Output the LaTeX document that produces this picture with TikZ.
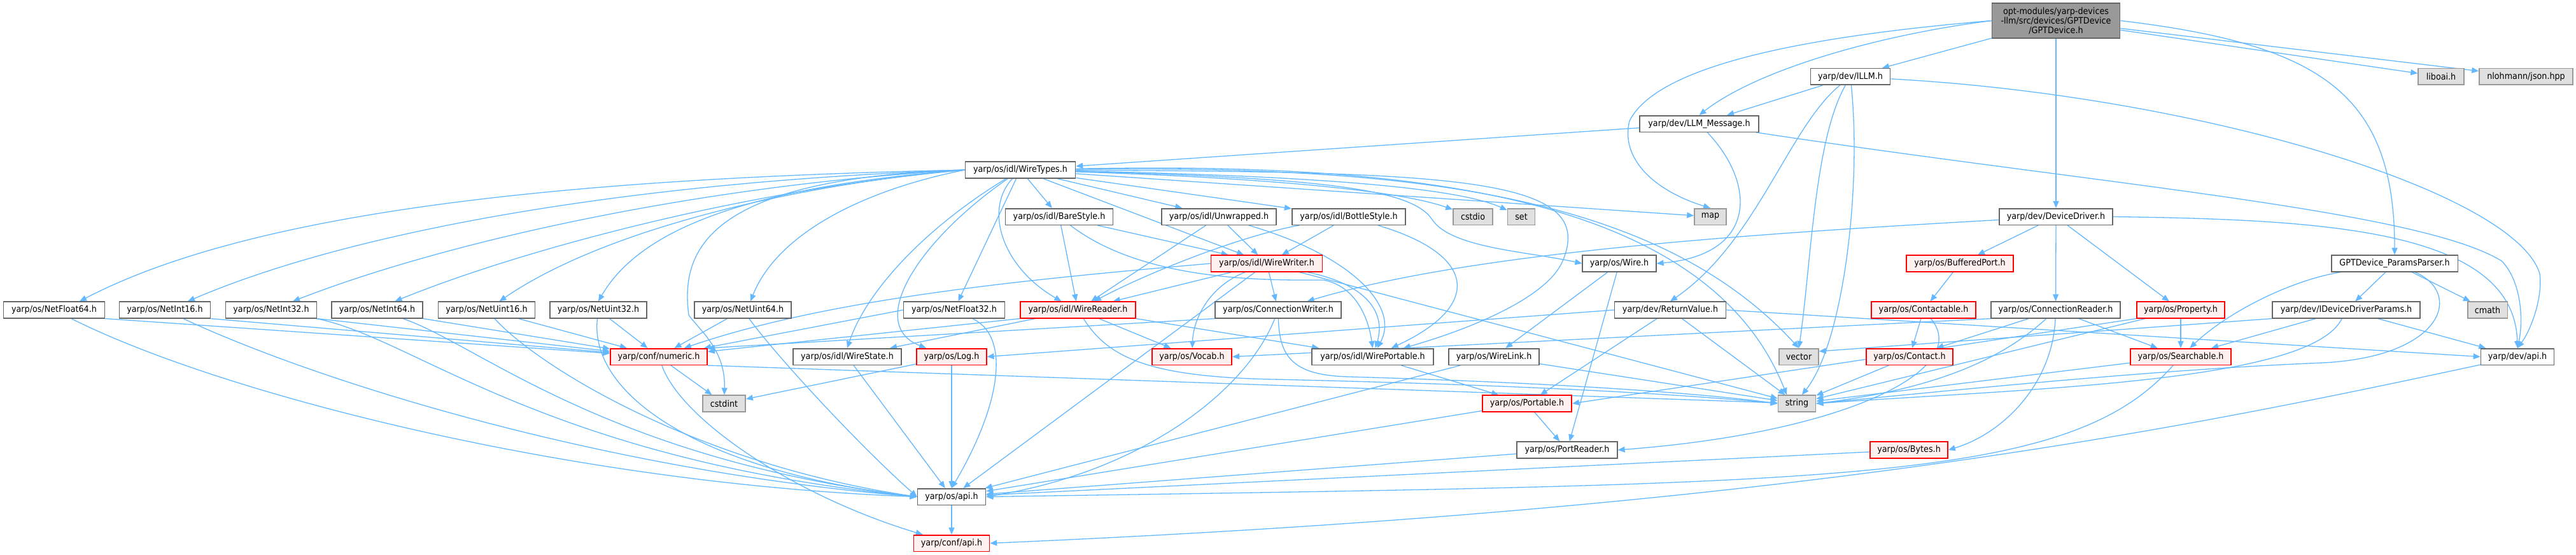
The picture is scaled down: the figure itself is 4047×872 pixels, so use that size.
\documentclass[tikz,border=0pt]{standalone}
\usepackage{fontspec}
\setmainfont{DejaVu Sans}[FakeStretch=0.91]
\usetikzlibrary{arrows.meta}
\definecolor{edgec}{HTML}{63B8FF}
\definecolor{grayb}{HTML}{666666}
\definecolor{sysb}{HTML}{999999}
\definecolor{sysf}{HTML}{E0E0E0}
\definecolor{redf}{HTML}{FFF0F0}
\definecolor{rootf}{HTML}{999999}
\pgfdeclarelayer{bg}
\pgfsetlayers{bg,main}
\tikzset{
 nd/.style={draw=grayb, fill=white, line width=0.8pt, inner sep=0pt, minimum height=12.8pt, font=\fontsize{7}{7.5}\selectfont},
 rd/.style={nd, draw=red, fill=redf},
 sy/.style={nd, draw=sysb, fill=sysf},
 nw/.style={minimum width=#1*0.5pt},
 e/.style={draw=edgec, line width=0.65pt, -{Triangle[length=5.5pt,width=4.5pt]}},
}
\begin{document}
\begin{tikzpicture}[x=0.5pt,y=-0.5pt]
\useasboundingbox (0,0) rectangle (4047,872);
% nodes
\node[nd, fill=rootf, nw=201, minimum height=27.5pt, align=center] (G) at (3230,32.5) {opt-modules/yarp-devices\\-llm/src/devices/GPTDevice\\/GPTDevice.h};
\node[nd, nw=125] (ILLM) at (2907,120.5) {yarp/dev/ILLM.h};
\node[sy, nw=72] (liboai) at (3835,120.5) {liboai.h};
\node[sy, nw=147] (json) at (3968.5,120.5) {nlohmann/json.hpp};
\node[nd, nw=187] (LLM) at (2669.5,194.5) {yarp/dev/LLM\_Message.h};
\node[nd, nw=173] (WT) at (1603,267) {yarp/os/idl/WireTypes.h};
\node[nd, nw=169] (Bare) at (1664,340.5) {yarp/os/idl/BareStyle.h};
\node[nd, nw=180] (Unwr) at (1915,340.5) {yarp/os/idl/Unwrapped.h};
\node[nd, nw=178.5] (Bottle) at (2119,340.5) {yarp/os/idl/BottleStyle.h};
\node[sy, nw=62] (cstdio) at (2314,340.5) {cstdio};
\node[sy, nw=43] (set) at (2390,340.5) {set};
\node[sy, nw=50] (map) at (2687,340.5) {map};
\node[nd, nw=178.5] (DD) at (3230,340.5) {yarp/dev/DeviceDriver.h};
\node[rd, nw=175] (WW) at (1990,414) {yarp/os/idl/WireWriter.h};
\node[nd, nw=115.5] (Wire) at (2544,414) {yarp/os/Wire.h};
\node[rd, nw=167.5] (BP) at (3079,414) {yarp/os/BufferedPort.h};
\node[nd, nw=198.5] (PP) at (3762,414) {GPTDevice\_ParamsParser.h};
\node[nd, nw=159] (NF64) at (85,487) {yarp/os/NetFloat64.h};
\node[nd, nw=143] (NI16) at (259,487) {yarp/os/NetInt16.h};
\node[nd, nw=143] (NI32) at (426,487) {yarp/os/NetInt32.h};
\node[nd, nw=143] (NI64) at (592.5,487) {yarp/os/NetInt64.h};
\node[nd, nw=152] (NU16) at (764.5,487) {yarp/os/NetUint16.h};
\node[nd, nw=152] (NU32) at (940,487) {yarp/os/NetUint32.h};
\node[nd, nw=152] (NU64) at (1167,487) {yarp/os/NetUint64.h};
\node[nd, nw=159] (NF32) at (1499,487) {yarp/os/NetFloat32.h};
\node[rd, nw=181] (WR) at (1693.5,487) {yarp/os/idl/WireReader.h};
\node[nd, nw=198.5] (CW) at (2008,487) {yarp/os/ConnectionWriter.h};
\node[nd, nw=175] (RV) at (2624,487) {yarp/dev/ReturnValue.h};
\node[rd, nw=163.5] (Ctbl) at (3022,487) {yarp/os/Contactable.h};
\node[nd, nw=203.5] (CR) at (3229.5,487) {yarp/os/ConnectionReader.h};
\node[rd, nw=138] (Prop) at (3426,487) {yarp/os/Property.h};
\node[nd, nw=232] (IDDP) at (3686,487) {yarp/dev/IDeviceDriverParams.h};
\node[sy, nw=62.5] (cmath) at (3908,487) {cmath};
\node[rd, nw=152] (numeric) at (1035,560.5) {yarp/conf/numeric.h};
\node[nd, nw=170.5] (WS) at (1331,560.5) {yarp/os/idl/WireState.h};
\node[rd, nw=109.5] (Log) at (1495,560.5) {yarp/os/Log.h};
\node[rd, nw=125.5] (Vocab) at (1872.5,560.5) {yarp/os/Vocab.h};
\node[nd, nw=191] (WP) at (2156.5,560.5) {yarp/os/idl/WirePortable.h};
\node[nd, nw=142] (WL) at (2347,560.5) {yarp/os/WireLink.h};
\node[sy, nw=62] (vector) at (2826,560.5) {vector};
\node[rd, nw=136] (Contact) at (3000,560.5) {yarp/os/Contact.h};
\node[rd, nw=158] (Search) at (3426,560.5) {yarp/os/Searchable.h};
\node[nd, nw=115] (devapi) at (3955,560.5) {yarp/dev/api.h};
\node[sy, nw=67] (cstdint) at (1137.5,634) {cstdint};
\node[rd, nw=140.5] (Portable) at (2399,634) {yarp/os/Portable.h};
\node[sy, nw=59] (string) at (2823,634) {string};
\node[nd, nw=157.5] (PR) at (2462,707) {yarp/os/PortReader.h};
\node[rd, nw=122] (Bytes) at (2999,707) {yarp/os/Bytes.h};
\node[nd, nw=107] (osapi) at (1495,780.5) {yarp/os/api.h};
\node[rd, nw=119] (confapi) at (1495,853.5) {yarp/conf/api.h};
\begin{pgfonlayer}{bg}
% G
\draw[e] (G) -- (ILLM);
\draw[e] (G.west) .. controls (2950,55) and (2760,110) .. (LLM.north);
\draw[e] (G.west) .. controls (2800,60) and (2600,110) .. (2560,190) .. controls (2545,250) and (2600,300) .. (map.north);
\draw[e] (G) -- (DD);
\draw[e] (G.east) .. controls (3650,70) and (3762,150) .. (PP.north);
\draw[e] (G) -- (liboai);
\draw[e] (G) -- (json);
% ILLM
\draw[e] (ILLM) -- (LLM);
\draw[e] (ILLM) .. controls (2810,200) and (2760,380) .. (RV.north);
\draw[e] (ILLM) .. controls (2850,220) and (2845,420) .. (vector.north);
\draw[e] (ILLM) .. controls (2925,300) and (2895,540) .. (string.60);
\draw[e] (ILLM) .. controls (3450,150) and (3950,300) .. (3990,430) .. controls (3995,470) and (3975,520) .. (devapi.north);
% LLM
\draw[e] (LLM) -- (WT);
\draw[e] (LLM) .. controls (2760,290) and (2760,400) .. (Wire.east);
\draw[e] (LLM) .. controls (3300,290) and (3800,330) .. (3930,410) .. controls (3960,440) and (3965,500) .. (devapi.north);
% WT
\draw[e] (WT.west) .. controls (900,280) and (400,330) .. ([xshift=20pt]NF64.north);
\draw[e] (WT.west) .. controls (1000,285) and (560,360) .. ([xshift=18pt]NI16.north);
\draw[e] (WT.west) .. controls (1100,290) and (700,380) .. ([xshift=17pt]NI32.north);
\draw[e] (WT.west) .. controls (1150,300) and (800,400) .. ([xshift=14pt]NI64.north);
\draw[e] (WT.west) .. controls (1250,290) and (950,360) .. ([xshift=10pt]NU16.north);
\draw[e] (WT.west) .. controls (1150,295) and (1000,370) .. (NU32.north);
\draw[e] (WT.west) .. controls (1350,300) and (1220,370) .. ([xshift=6pt]NU64.north);
\draw[e] (WT.west) .. controls (1100,280) and (1070,400) .. (1082,495) .. controls (1100,520) and (1140,550) .. (cstdint);
\draw[e] (WT) .. controls (1450,360) and (1360,460) .. (WS.north);
\draw[e] (WT) .. controls (1440,380) and (1360,510) .. ([xshift=-20pt]Log.north);
\draw[e] (WT) -- (NF32);
\draw[e] (WT) .. controls (1545,330) and (1575,420) .. ([xshift=-13pt]WR.north);
\draw[e] (WT) -- (Bare);
\draw[e] (WT) -- (Unwr);
\draw[e] (WT) -- (WW);
\draw[e] (WT) -- (Bottle);
\draw[e] (WT) .. controls (2000,280) and (2200,300) .. (cstdio);
\draw[e] (WT) .. controls (2000,275) and (2280,290) .. (set);
\draw[e] (WT) -- (map);
\draw[e] (WT) .. controls (2100,280) and (2220,300) .. (2250,345) .. controls (2280,390) and (2400,395) .. (Wire.west);
\draw[e] (WT) .. controls (2300,270) and (2510,280) .. (2455,410) .. controls (2430,470) and (2300,520) .. (WP);
\draw[e] (WT) .. controls (2200,260) and (2600,300) .. (vector.north);
\draw[e] (WT) .. controls (2200,255) and (2680,300) .. ([xshift=-8pt]string.north);
% styles
\draw[e] (Bare) -- (WR);
\draw[e] (Bare) -- (WW);
\draw[e] (Bare) .. controls (1800,445) and (2000,440) .. (2080,440) .. controls (2130,450) and (2150,500) .. (WP.north);
\draw[e] (Unwr) -- (WR);
\draw[e] (Unwr) -- (WW);
\draw[e] (Unwr) .. controls (2120,400) and (2200,480) .. (WP);
\draw[e] (Bottle) .. controls (1950,370) and (1800,430) .. (WR);
\draw[e] (Bottle) -- (WW);
\draw[e] (Bottle) .. controls (2320,400) and (2330,480) .. (WP);
% WW
\draw[e] (WW) -- (WR);
\draw[e] (WW.west) .. controls (1600,440) and (1300,470) .. (numeric);
\draw[e] (WW) -- (osapi);
\draw[e] (WW) .. controls (1900,450) and (1875,500) .. (Vocab);
\draw[e] (WW) -- (CW);
\draw[e] (WW) .. controls (2160,450) and (2175,500) .. (WP);
\draw[e] (WW) -- (string);
% WR
\draw[e] (WR.south west) -- (numeric);
\draw[e] (WR) -- (WS);
\draw[e] (WR) -- (Vocab);
\draw[e] (WR.south east) -- (WP);
\draw[e] (WR) .. controls (1740,560) and (1800,592) .. (2000,596) .. controls (2400,605) and (2650,620) .. (string.west);
% CW
\draw[e] (CW.south west) -- (numeric.north east);
\draw[e] (CW) .. controls (1960,610) and (1800,740) .. (osapi.east);
\draw[e] (CW) .. controls (2010,560) and (2030,590) .. (2120,592) .. controls (2400,600) and (2650,615) .. (string.west);
% RV
\draw[e] (RV) -- (Portable);
\draw[e] (RV) -- (string);
\draw[e] (RV.east) -- (devapi.west);
\draw[e] (RV.west) -- (Log.east);
% Wire etc.
\draw[e] (Wire) -- (WL);
\draw[e] (Wire) -- (PR);
\draw[e] (WP) -- (Portable);
\draw[e] (WL) -- (osapi);
\draw[e] (WL) -- (string);
\draw[e] (Portable) -- (PR);
\draw[e] (Portable) -- (osapi);
\draw[e] (PR) -- (osapi);
% Net types
\draw[e] (NF64.south east) -- (numeric);
\draw[e] (NI16.south east) -- (numeric);
\draw[e] (NI32.south east) -- (numeric);
\draw[e] (NI64.south east) -- (numeric);
\draw[e] (NU16) -- (numeric);
\draw[e] (NU32) -- (numeric);
\draw[e] (NU64) -- (numeric);
\draw[e] (NF64) .. controls (350,620) and (900,760) .. (osapi.west);
\draw[e] (NI16) .. controls (500,600) and (950,740) .. (osapi.west);
\draw[e] (NI32) .. controls (650,530) and (850,720) .. (osapi.west);
\draw[e] (NI64) .. controls (750,540) and (950,720) .. (osapi.west);
\draw[e] (NU16) .. controls (850,580) and (1100,730) .. (osapi.west);
\draw[e] (NU32) .. controls (925,620) and (1100,740) .. (osapi.west);
\draw[e] (NU64) .. controls (1220,560) and (1350,700) .. (osapi.west);
\draw[e] (NF32) .. controls (1590,530) and (1570,640) .. (osapi.north);
\draw[e] (NF32.west) -- (numeric);
\draw[e] (WS) -- (osapi);
\draw[e] (Log) -- (osapi);
\draw[e] (Log) -- (cstdint);
\draw[e] (numeric) -- (cstdint);
\draw[e] (numeric) .. controls (1070,660) and (1250,780) .. (confapi);
\draw[e] (numeric.south east) -- (string);
\draw[e] (osapi) -- (confapi);
\draw[e] (devapi) .. controls (3400,680) and (2800,800) .. (confapi.east);
% DD etc.
\draw[e] (DD) -- (BP);
\draw[e] (DD) -- (Prop);
\draw[e] (DD) -- (CR);
\draw[e] (DD) .. controls (2700,370) and (2300,400) .. (CW);
\draw[e] (DD.east) .. controls (3650,345) and (3950,360) .. (devapi.north);
\draw[e] (BP) -- (Ctbl);
\draw[e] (Ctbl) -- (Contact);
\draw[e] (Ctbl) .. controls (3100,580) and (2900,680) .. (PR.east);
\draw[e] (Contact) -- (string);
\draw[e] (CR) -- (Contact);
\draw[e] (CR) .. controls (3150,560) and (3050,610) .. (string.east);
\draw[e] (CR) .. controls (3225,600) and (3150,680) .. (Bytes.east);
\draw[e] (CR) -- (Search);
\draw[e] (CR.south west) -- (Vocab.east);
\draw[e] (Bytes) -- (osapi);
\draw[e] (Prop) -- (Search);
\draw[e] (Prop.south west) -- (Portable.east);
\draw[e] (Prop) -- (string);
\draw[e] (Search) -- (string);
\draw[e] (Search) .. controls (3250,760) and (2900,760) .. (osapi.east);
\draw[e] (IDDP) -- (Search);
\draw[e] (IDDP) -- (devapi);
\draw[e] (IDDP.south west) -- (vector.15);
\draw[e] (IDDP) .. controls (3630,600) and (3200,610) .. (string.east);
\draw[e] (PP) -- (IDDP);
\draw[e] (PP) .. controls (3600,440) and (3500,490) .. (Search);
\draw[e] (PP) -- (cmath);
\draw[e] (PP) .. controls (3870,460) and (3840,560) .. (3650,570) .. controls (3400,580) and (3100,610) .. (string.east);
\end{pgfonlayer}
\end{tikzpicture}
\end{document}
